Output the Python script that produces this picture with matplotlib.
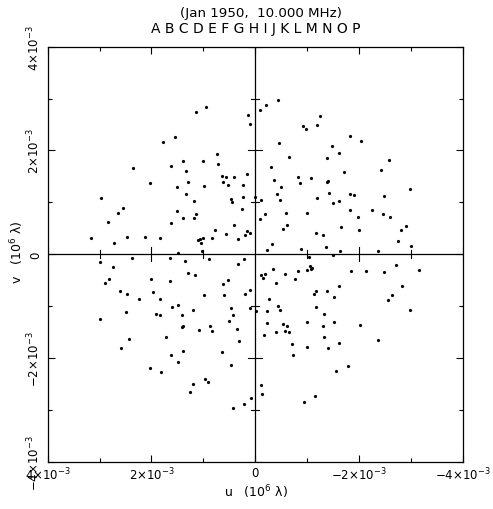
import numpy as np
import matplotlib.pyplot as plt

# uv points of the 120 baselines (units of 1e-3 x 10^6 lambda), upper half;
# the conjugate points (-u, -v) are plotted as well, as usual for uv coverage
u = np.array([0.94, 1.15, 0.13, 0.11, -0.09, 1.55, 1.78, 0.73, 1.40, 1.00,
              1.62, 0.71, 2.36, 1.33, 0.16, 0.65, 0.57, 0.40, 0.62, 0.53,
              1.30, 2.02, 0.23, 1.51, 0.99, 1.33, 0.23, 0.01, 2.98, 0.47,
              0.44, 1.18, 2.55, 0.26, -0.10, 2.64, 1.51, 1.14, 1.39, 1.18,
              2.83, 1.62, 0.41, 0.77, 0.15, 0.11, 0.19, 0.57, 0.34, 0.83,
              3.16, 2.48, 2.13, 1.84, 2.72, 1.00, 1.07, 1.10, 1.05, 1.49,
              1.03,
              -0.21, -0.43, -1.25, -1.19, -0.92, -0.97, -1.82, -2.03, -0.46, -1.48,
              -1.62, -0.65, -1.39, -2.58, -0.31, -2.43, -1.72, -0.83, -1.08, -0.36,
              -0.87, -1.41, -1.39, -0.50, -2.99, -0.42, -1.42, -1.83, -1.91, -2.49,
              -0.11, -0.47, -1.20, -1.61, -1.49, -1.83, -2.25, -0.19, -0.60, -0.99,
              -2.47, -1.98, -2.60, -0.62, -0.53, -1.65, -2.01, -2.90, -2.81, -1.17,
              -1.30, -2.75, -0.33, -3.00, -1.36, -0.22, -0.89, -1.64, -2.37])
v = np.array([2.84, 2.74, 2.69, 2.52, 2.78, 2.26, 2.16, 1.94, 1.80, 1.79,
              1.71, 1.73, 1.66, 1.60, 1.55, 1.50, 1.48, 1.49, 1.39, 1.34,
              1.39, 1.37, 1.33, 1.30, 1.31, 1.16, 1.10, 1.10, 1.08, 1.07,
              1.00, 1.02, 0.89, 0.87, 0.68, 0.79, 0.83, 0.77, 0.70, 0.70,
              0.62, 0.61, 0.56, 0.47, 0.45, 0.41, 0.38, 0.39, 0.29, 0.32,
              0.31, 0.34, 0.33, 0.32, 0.21, 0.31, 0.29, 0.27, 0.22, 0.02,
              0.06,
              2.88, 2.97, 2.66, 2.50, 2.47, 2.41, 2.27, 2.19, 2.14, 2.08,
              1.95, 1.88, 1.86, 1.81, 1.68, 1.63, 1.59, 1.48, 1.47, 1.44,
              1.38, 1.41, 1.39, 1.29, 1.25, 1.17, 1.18, 1.17, 1.15, 1.12,
              1.04, 1.04, 1.08, 1.02, 0.98, 0.86, 0.86, 0.77, 0.79, 0.79,
              0.77, 0.72, 0.71, 0.57, 0.49, 0.52, 0.47, 0.55, 0.47, 0.40,
              0.37, 0.25, 0.19, 0.15, 0.14, 0.09, 0.10, 0.07, 0.07])

title = '(Jan 1950,  10.000 MHz)'
antennas = list('ABCDEFGHIJKLMNOP')
major = [4, 2, 0, -2, -4]
major_labels = [r'$4{\times}10^{-3}$', r'$2{\times}10^{-3}$', '0',
                r'$-2{\times}10^{-3}$', r'$-4{\times}10^{-3}$']
minor = [3, 1, -1, -3]

fig = plt.figure(figsize=(4.93, 5.10), dpi=100)
ax = fig.add_axes([0.0968, 0.0927, 0.8418, 0.8137])

ax.plot(u, v, 'o', color='black', ms=2.3, mew=0)
ax.plot(-u, -v, 'o', color='black', ms=2.3, mew=0)

ax.set_xlim(4, -4)
ax.set_ylim(-4, 4)

# axes through the origin, with ticks crossing them
ax.axhline(0, color='black', lw=0.9)
ax.axvline(0, color='black', lw=0.9)
for t in major + minor:
    if t == 0:
        continue
    h = 0.135 if t % 2 == 0 else 0.077
    ax.plot([t, t], [-h, h], color='black', lw=0.8)
    ax.plot([-h, h], [t, t], color='black', lw=0.8)

ax.set_xticks(major)
ax.set_xticklabels(major_labels)
ax.set_xticks(minor, minor=True)
ax.set_yticks(major)
ax.set_yticklabels(major_labels, rotation=90, va='center')
ax.set_yticks(minor, minor=True)
ax.tick_params(which='both', direction='in', top=True, right=True,
               labelsize=8.5, width=0.8, color='black')
ax.tick_params(which='major', length=5)
ax.tick_params(which='minor', length=2.9)
ax.tick_params(axis='x', pad=3)
ax.tick_params(axis='y', pad=4)
for s in ax.spines.values():
    s.set_linewidth(0.9)

fig.text(256 / 493, 1 - 492 / 510, 'u   (10$^6$ λ)', ha='center', va='center',
         fontsize=9)
fig.text(17 / 493, 1 - 252 / 510, 'v   (10$^6$ λ)', ha='center', va='center',
         rotation=90, fontsize=9)
fig.text(261 / 493, 1 - 14 / 510, title, ha='center', va='center', fontsize=9.6)
fig.text(256 / 493, 1 - 29 / 510, ' '.join(antennas), ha='center', va='center',
         fontsize=10)

fig.savefig('out.png', dpi=100)
